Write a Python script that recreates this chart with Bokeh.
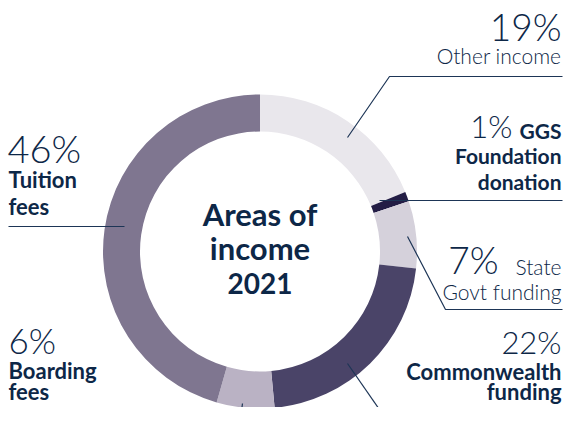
from bokeh.plotting import figure
from bokeh.models import Range1d
from bokeh.core.properties import value
from bokeh.embed import file_html
from bokeh.resources import INLINE
import math

# ---- data ----
categories = ["Other income", "GGS Foundation donation", "State Govt funding",
              "Commonwealth funding", "Boarding fees", "Tuition fees"]
percents = [19, 1, 7, 22, 6, 46]
colors = ["#e9e7ec", "#231d45", "#d5d1db", "#4a4468", "#bab2c4", "#7f7690"]
pct_labels = ["19%", "1%", "7%", "22%", "6%", "46%"]

# ---- layout (screen pixel coordinates, y downward) ----
W, H = 563, 407
TXT = "#0d2747"
LIGHT = value("Lato Light, Lato")
BOLD = value("Lato")
K = 0.42   # baseline compensation (fraction of font size)

def Y(py):
    return H - py

p = figure(width=W, height=H, output_backend="svg", toolbar_location=None,
           x_range=Range1d(0, W), y_range=Range1d(0, H), min_border=0)
p.axis.visible = False
p.grid.visible = False
p.outline_line_color = None
p.background_fill_color = "white"

cx, cy = 259.5, Y(251)
r_in, r_out = 120, 157
total = sum(percents)
starts, ends = [], []
acc = 0.0
for v in percents:
    starts.append(math.pi / 2 - 2 * math.pi * acc / total)
    acc += v
    ends.append(math.pi / 2 - 2 * math.pi * acc / total)

p.annular_wedge(x=cx, y=cy, inner_radius=r_in, outer_radius=r_out,
                start_angle=starts, end_angle=ends, direction="clock",
                fill_color=colors, line_color=None)

RX = 561
leaders = [
    ([347, 389, RX + 1], [137, 76, 76]),
    ([379, RX + 1], [200, 200]),
    ([407, 445, RX + 1], [236, 309, 309]),
    ([347, 390], [363, 425]),
    ([242, 239], [403, 425]),
    ([8, 124], [226, 226]),
]
for xs, ys in leaders:
    p.line(x=xs, y=[Y(v) for v in ys], line_color="#1d3556", line_width=1.2)


def txt(x, y, s, size, font, align, bold=False):
    p.text(x=[x], y=[Y(y - K * size)], text=[s], text_font=font,
           text_font_size=f"{size}px", text_align=align,
           text_baseline="alphabetic", text_color=TXT,
           text_font_style="bold" if bold else "normal")

# Other income
txt(RX, 42, pct_labels[0], 37, LIGHT, "right")
txt(RX, 64, "Other income", 21, LIGHT, "right")
# GGS
txt(512, 139, pct_labels[1], 31, LIGHT, "right")
txt(RX, 139, "GGS", 21, BOLD, "right", True)
txt(RX, 164, "Foundation", 21, BOLD, "right", True)
txt(RX, 190, "donation", 21, BOLD, "right", True)
# State
txt(498, 275, pct_labels[2], 37, LIGHT, "right")
txt(RX, 275, "State", 21, LIGHT, "right")
txt(RX, 300, "Govt funding", 21, LIGHT, "right")
# Commonwealth
txt(RX, 355, pct_labels[3], 31, LIGHT, "right")
txt(RX, 380, "Commonwealth", 22, BOLD, "right", True)
txt(RX, 400, "funding", 22, BOLD, "right", True)
# Tuition
txt(7, 163, pct_labels[5], 38, LIGHT, "left")
txt(8, 188, "Tuition", 22, BOLD, "left", True)
txt(8, 215, "fees", 22, BOLD, "left", True)
# Boarding
txt(8, 354, pct_labels[4], 35, LIGHT, "left")
txt(8, 379, "Boarding", 22, BOLD, "left", True)
txt(8, 400, "fees", 22, BOLD, "left", True)
# centre title
txt(cx, 227, "Areas of", 31, BOLD, "center", True)
txt(cx, 261, "income", 31, BOLD, "center", True)
txt(cx, 295, "2021", 28, BOLD, "center", True)

open("out.html", "w").write(file_html(p, INLINE))
